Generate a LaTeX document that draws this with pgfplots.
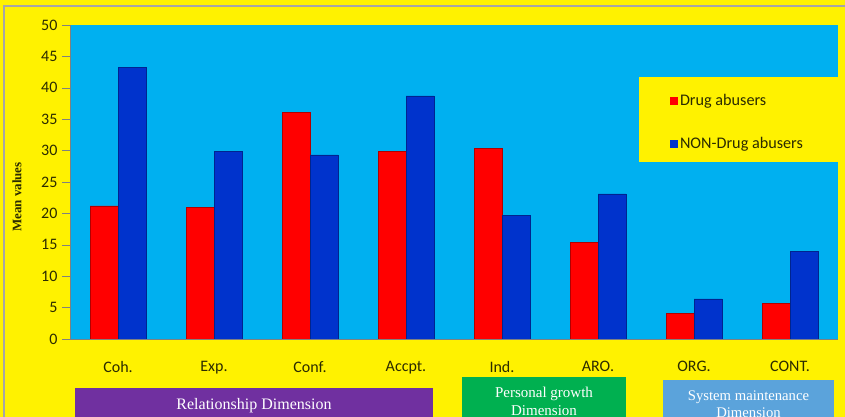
\documentclass[border=0pt]{standalone}
\usepackage{pgfplots}
\pgfplotsset{compat=1.18}
\usepackage{fontspec}
\setmainfont{Liberation Serif}
\newfontfamily\calfont{Carlito}
\definecolor{plotbg}{HTML}{00B0F0}
\definecolor{druga}{HTML}{FF0000}
\definecolor{nondrug}{HTML}{0033CC}
\definecolor{purplebox}{HTML}{7030A0}
\definecolor{greenbox}{HTML}{00B050}
\definecolor{bluebox}{HTML}{5BA3DB}
\definecolor{txt}{HTML}{2B2B00}
\begin{document}
\begin{tikzpicture}[x=1pt,y=1pt]
\useasboundingbox (0,0) rectangle (845,417);
\fill[yellow] (0,0) rectangle (845,417);
\draw[gray!70, line width=2pt] (4,0) -- (4,411) -- (845,411);
\begin{axis}[
  at={(70pt,78pt)}, anchor=south west,
  scale only axis, width=768pt, height=314pt,
  xmin=-0.5, xmax=7.5, ymin=0, ymax=50,
  ytick={0,5,...,50},
  xtick={0,...,7},
  xticklabels={Coh.,Exp.,Conf.,Accpt.,Ind.,ARO.,ORG.,CONT.},
  axis background/.style={fill=plotbg},
  axis x line*=bottom, axis y line*=left,
  axis line style={gray,-},
  tick align=outside,
  major tick length=8pt,
  ytick style={gray},
  xtick style={draw=none},
  /pgf/number format/assume math mode=true,
  ticklabel style={font=\calfont\fontsize{16}{19}\selectfont, text=txt},
  yticklabel style={xshift=-1pt},
  xticklabel style={yshift=-11pt},
  ylabel={Mean values},
  every axis y label/.style={at={(rel axis cs:0,0.452)}, rotate=90, anchor=center, yshift=53pt, font=\bfseries\fontsize{13}{15}\selectfont, text=txt},
  ybar=0pt, bar width=28pt,
  legend style={at={(rel axis cs:0.781,0.785)}, anchor=north west, draw=none, fill=none,
    font=\calfont\fontsize{16.2}{19}\selectfont, text=txt, row sep=26pt, inner sep=0pt},
  legend cell align=left,
  legend image code/.code={\path[#1,draw=none] (0pt,-4pt) rectangle (8pt,4pt);},
]
\fill[yellow] (rel axis cs:0.741,0.564) rectangle (rel axis cs:1,0.834);
\addplot[fill=druga, draw=druga!70!black, line width=0.4pt] coordinates {(0,21.2) (1,21.0) (2,36.1) (3,29.9) (4,30.4) (5,15.4) (6,4.1) (7,5.7)};
\addplot[fill=nondrug, draw=nondrug!70!black, line width=0.4pt] coordinates {(0,43.3) (1,29.9) (2,29.3) (3,38.7) (4,19.7) (5,23.1) (6,6.4) (7,14.0)};
\legend{Drug abusers, NON-Drug abusers}
\end{axis}
\begin{scope}
\clip (0,0) rectangle (845,417);
\fill[purplebox] (75,-20) rectangle (433,29);
\node[text=white, font=\fontsize{16}{18}\selectfont] at (254,11) {Relationship Dimension};
\fill[greenbox] (462,-20) rectangle (626,40);
\node[text=white, font=\fontsize{15}{18}\selectfont, align=center] at (544,16) {Personal growth\\Dimension};
\fill[bluebox] (663,-20) rectangle (834,37);
\node[text=white, font=\fontsize{14.7}{17}\selectfont, align=center] at (748.5,13) {System maintenance\\Dimension};
\end{scope}
\end{tikzpicture}
\end{document}
